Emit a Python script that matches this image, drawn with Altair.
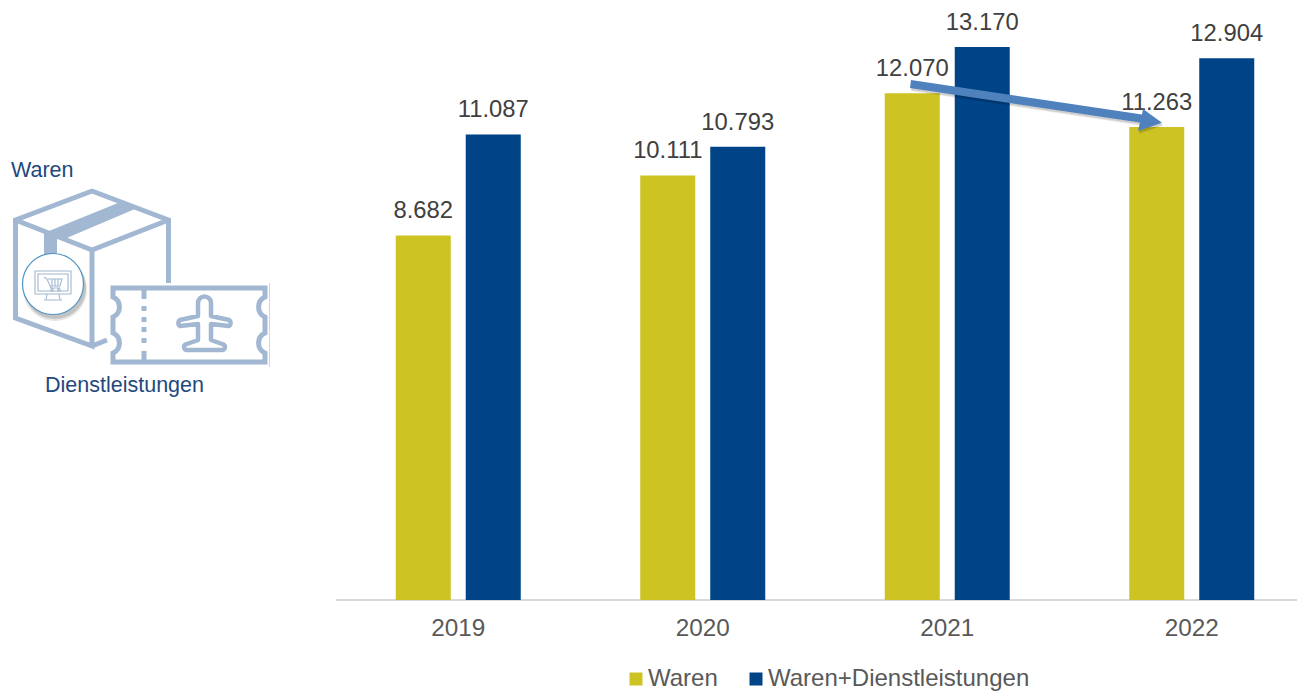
import altair as alt
import pandas as pd

# Values per year and series
years = ["2019", "2020", "2021", "2022"]
waren = [8682, 10111, 12070, 11263]
waren_dienst = [11087, 10793, 13170, 12904]
series_names = ["Waren", "Waren+Dienstleistungen"]
series_colors = ["#CDC423", "#004387"]

FONT = "Liberation Sans"
PLOT_LEFT = 336
PLOT_WIDTH = 961
PLOT_HEIGHT = 600
ICON = "#A2B7D1"


def german(value):
    return f"{value:,}".replace(",", ".")


rows = []
for i, year in enumerate(years):
    for name, series in zip(series_names, (waren, waren_dienst)):
        rows.append({"Jahr": year, "Reihe": name, "Wert": series[i], "Label": german(series[i])})
table = pd.DataFrame(rows)

x_enc = alt.X(
    "Jahr:N",
    sort=years,
    title=None,
    scale=alt.Scale(range=[0, 978], paddingInner=0, paddingOuter=0),
    axis=alt.Axis(
        domain=False,
        ticks=False,
        grid=False,
        labelAngle=0,
        labelFont=FONT,
        labelFontSize=24.3,
        labelColor="#595959",
        labelPadding=16,
    ),
)
offset_enc = alt.XOffset(
    "Reihe:N",
    sort=series_names,
    scale=alt.Scale(range=[59.75, 184.75], paddingInner=0.214, paddingOuter=0),
)
y_enc = alt.Y(
    "Wert:Q",
    title=None,
    axis=None,
    scale=alt.Scale(domain=[0, 14289], nice=False, zero=True),
)

bars = (
    alt.Chart(table)
    .mark_bar(cornerRadius=0)
    .encode(
        x=x_enc,
        xOffset=offset_enc,
        y=y_enc,
        color=alt.Color(
            "Reihe:N",
            sort=series_names,
            scale=alt.Scale(domain=series_names, range=series_colors),
            legend=alt.Legend(
                title=None,
                orient="none",
                legendX=288,
                legendY=667,
                direction="horizontal",
                symbolType="square",
                symbolSize=169,
                symbolStrokeWidth=0,
                labelFont=FONT,
                labelFontSize=24,
                labelColor="#595959",
                labelOffset=0,
                columnPadding=26,
                padding=0,
                labelLimit=400,
            ),
        ),
    )
)

labels = (
    alt.Chart(table)
    .mark_text(font=FONT, fontSize=23.8, color="#404040", baseline="bottom", dy=-12)
    .encode(x=x_enc, xOffset=offset_enc, y=y_enc, text="Label:N")
)

one = pd.DataFrame({"k": [0]})

baseline = (
    alt.Chart(one)
    .mark_rule(color="#D9D9D9", strokeWidth=2)
    .encode(x=alt.value(0), x2=alt.value(PLOT_WIDTH), y=alt.value(PLOT_HEIGHT))
)


def outline(path, stroke=ICON, width=5.0, fill=None, opacity=1.0, dx=0, dy=0, join="miter"):
    """Draws an SVG path given in page pixels as a custom symbol."""
    style = dict(shape=path, size=4, strokeWidth=width, opacity=opacity, strokeJoin=join)
    if stroke:
        style["stroke"] = stroke
    else:
        style["strokeWidth"] = 0
    if fill:
        style["fill"] = fill
        style["filled"] = True
    else:
        style["filled"] = False
    return (
        alt.Chart(one)
        .mark_point(**style)
        .encode(x=alt.value(-PLOT_LEFT + dx), y=alt.value(dy))
    )


def circle_path(cx, cy, r):
    return f"M{cx - r} {cy}A{r} {r} 0 1 0 {cx + r} {cy}A{r} {r} 0 1 0 {cx - r} {cy}Z"


# Parcel outline, tape and the online-shop badge
box_top = "M15.5 220L92 191L168.5 220L92 250Z"
box_sides = "M15.5 218V318L92 346V250M168.5 218V283M92 346L107 340"
box_tape = "M44 233L118 203L135 209L62 240L57 238V257H44Z"
badge = circle_path(53, 284, 30.5)
monitor = "M35 271H71V294H35ZM38 274H68V291H38ZM47 294L46 300M59 294L60 300M44 300H62"
cart = (
    "M44 277L47 279L51 288H60M48 279H62L60 286H50M52 279V286M55 279V286M58 279V286"
    + circle_path(52, 290, 1.3)
    + circle_path(59, 290, 1.3)
)

# Ticket with side notches, perforation and aeroplane
ticket = (
    "M113 288H265V297A11 11 0 0 0 265 317V333A11 11 0 0 0 265 353V362H113V353"
    "A11 11 0 0 0 113 333V317A11 11 0 0 0 113 297V288Z"
)
perforation = "M144 290V299M144 306V311M144 317V322M144 327V332M144 338V343M144 351V360"
plane = (
    "M198 316V303A6.5 6.5 0 0 1 211 303V316L229 320A3.5 3.5 0 0 1 229 326L211 324V340"
    "L222 344A3 3 0 0 1 222 350H187A3 3 0 0 1 187 344L198 340V324L180 326A3.5 3.5 0 0 1 180 320Z"
)
ticket_edge = "M269.5 283V367"

# Trend arrow between the 2021 and 2022 goods bars
arrow = "M911 80L1142 114.5L1143 109L1162 122.7L1138 131L1140 122.5L910 88Z"

icon_layers = [
    outline(box_top, join="bevel"),
    outline(box_sides),
    outline(box_tape, stroke=None, fill=ICON),
    outline(circle_path(55, 289, 32), stroke=None, fill="#000000", opacity=0.1),
    outline(circle_path(55, 288, 31), stroke=None, fill="#000000", opacity=0.15),
    outline(badge, stroke="#4F94C4", width=1.2, fill="#FFFFFF"),
    outline(monitor, width=1.1),
    outline(cart, width=1.1),
    outline(ticket),
    outline(perforation),
    outline(plane, width=4.5, join="round"),
    outline(ticket_edge, stroke="#D4D4D4", width=1),
]

arrow_layers = [
    outline(arrow, stroke=None, fill="#000000", opacity=0.1, dx=1, dy=3),
    outline(arrow, stroke=None, fill="#000000", opacity=0.1, dx=1, dy=2),
    outline(arrow, stroke=None, fill="#4F81BD"),
]


def caption(text, x, y):
    return (
        alt.Chart(one)
        .mark_text(font=FONT, fontSize=21.5, color="#1F497D", align="left", baseline="middle")
        .encode(x=alt.value(x - PLOT_LEFT), y=alt.value(y), text=alt.value(text))
    )


chart = (
    alt.layer(
        baseline,
        bars,
        labels,
        *arrow_layers,
        *icon_layers,
        caption("Waren", 11, 171),
        caption("Dienstleistungen", 45, 386),
    )
    .properties(
        width=PLOT_WIDTH,
        height=PLOT_HEIGHT,
        padding={"left": PLOT_LEFT, "top": 0, "right": 0, "bottom": 92},
        autosize=alt.AutoSizeParams(type="none"),
        background="#FFFFFF",
    )
    .configure_view(stroke=None)
)

chart.save("out.html", embed_options={"renderer": "svg", "actions": False})
